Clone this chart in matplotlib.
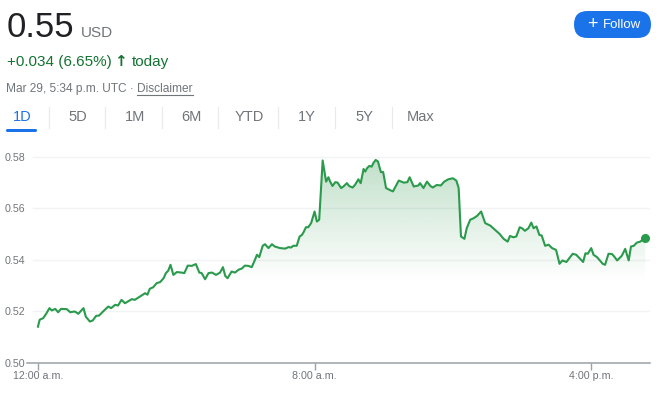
import matplotlib.pyplot as plt
import numpy as np
from matplotlib.patches import FancyBboxPatch
from matplotlib.lines import Line2D
from matplotlib.transforms import IdentityTransform

plt.rcParams['font.family'] = ['Liberation Sans', 'DejaVu Sans']

# minutes after midnight (UTC) and price in USD
minutes = [0, 3, 9, 14, 20, 24, 30, 35, 40, 50, 56, 64, 70, 79, 83, 90, 95, 101, 106, 113,
           122, 127, 134, 139, 145, 151, 163, 168, 177, 186, 190, 194, 200, 206, 212, 218,
           222, 226, 230, 235, 241, 249, 254, 260, 267, 274, 280, 284, 290, 296, 302, 309,
           316, 321, 325, 329, 336, 342, 348, 354, 359, 365, 371, 377, 380, 384, 390, 394,
           400, 406, 411, 420, 429, 435, 439, 443, 449, 454, 458, 461, 465, 469, 474, 480,
           484, 488, 494, 500, 504, 507, 511, 516, 520, 526, 530, 536, 540, 546, 550, 556,
           560, 565, 568, 571, 575, 579, 582, 586, 590, 595, 599, 604, 610, 616, 626, 635,
           641, 645, 652, 660, 663, 669, 675, 681, 685, 692, 699, 705, 712, 720, 726, 730,
           734, 740, 744, 750, 756, 762, 769, 776, 785, 793, 801, 808, 815, 819, 825, 830,
           836, 840, 845, 851, 856, 860, 865, 870, 874, 880, 886, 892, 899, 905, 910, 917,
           922, 928, 934, 946, 950, 954, 960, 964, 970, 980, 984, 990, 996, 1000, 1005, 1013,
           1019, 1025, 1029, 1034, 1039, 1045, 1054]
price = [0.5141, 0.5168, 0.5174, 0.5190, 0.5213, 0.5204, 0.5210, 0.5197, 0.5210, 0.5209,
         0.5197, 0.5200, 0.5191, 0.5213, 0.5180, 0.5161, 0.5165, 0.5183, 0.5184, 0.5200,
         0.5219, 0.5213, 0.5226, 0.5223, 0.5245, 0.5232, 0.5248, 0.5245, 0.5258, 0.5271,
         0.5265, 0.5288, 0.5294, 0.5310, 0.5314, 0.5329, 0.5349, 0.5358, 0.5381, 0.5342,
         0.5353, 0.5351, 0.5349, 0.5378, 0.5377, 0.5384, 0.5351, 0.5349, 0.5325, 0.5349,
         0.5351, 0.5342, 0.5351, 0.5372, 0.5338, 0.5329, 0.5355, 0.5351, 0.5362, 0.5367,
         0.5378, 0.5377, 0.5372, 0.5403, 0.5420, 0.5411, 0.5455, 0.5461, 0.5446, 0.5461,
         0.5452, 0.5446, 0.5444, 0.5450, 0.5448, 0.5455, 0.5455, 0.5491, 0.5497, 0.5508,
         0.5527, 0.5527, 0.5543, 0.5588, 0.5549, 0.5556, 0.5786, 0.5704, 0.5721, 0.5704,
         0.5687, 0.5702, 0.5700, 0.5679, 0.5685, 0.5698, 0.5687, 0.5681, 0.5691, 0.5713,
         0.5698, 0.5753, 0.5743, 0.5756, 0.5765, 0.5762, 0.5776, 0.5788, 0.5782, 0.5741,
         0.5741, 0.5679, 0.5672, 0.5666, 0.5708, 0.5700, 0.5702, 0.5721, 0.5685, 0.5689,
         0.5698, 0.5679, 0.5704, 0.5687, 0.5681, 0.5691, 0.5689, 0.5704, 0.5713, 0.5717,
         0.5708, 0.5679, 0.5491, 0.5482, 0.5523, 0.5556, 0.5562, 0.5571, 0.5588, 0.5543,
         0.5533, 0.5517, 0.5501, 0.5482, 0.5471, 0.5493, 0.5488, 0.5491, 0.5527, 0.5523,
         0.5513, 0.5523, 0.5545, 0.5523, 0.5530, 0.5497, 0.5495, 0.5455, 0.5459, 0.5446,
         0.5439, 0.5385, 0.5398, 0.5392, 0.5407, 0.5424, 0.5420, 0.5392, 0.5426, 0.5424,
         0.5446, 0.5420, 0.5411, 0.5385, 0.5381, 0.5424, 0.5423, 0.5413, 0.5398, 0.5416,
         0.5443, 0.5398, 0.5452, 0.5455, 0.5467, 0.5471, 0.5487]

y_ticks = [0.50, 0.52, 0.54, 0.56, 0.58]
x_ticks = [0, 480, 960]
x_labels = ["12:00 a.m.", "8:00 a.m.", "4:00 p.m."]
tabs = ["1D", "5D", "1M", "6M", "YTD", "1Y", "5Y", "Max"]

GREEN = '#2a9a4c'
W, H = 660, 393


def fx(x):
    return x / W


def fy(y):
    return 1 - y / H


fig = plt.figure(figsize=(6.6, 3.93), dpi=100)
ax = fig.add_axes([fx(27), fy(363), fx(650) - fx(27), fy(144) - fy(363)])
xmin, xmax = -19, 1062
ax.set_xlim(xmin, xmax)
ax.set_ylim(0.50, 0.585)

# faint grid
for v in y_ticks[1:]:
    ax.axhline(v, xmin=0.01, xmax=1, color='#f1f3f4', lw=1, zorder=0)

# gradient fill under the line
poly = ax.fill_between(minutes, price, 0.50, facecolor='none', edgecolor='none')
ys = np.linspace(0.50, 0.585, 300)
alpha = np.clip((ys - 0.532) / (0.58 - 0.532), 0, 1) * 0.28
grad = np.zeros((len(ys), 1, 4))
grad[..., 0] = 30 / 255
grad[..., 1] = 142 / 255
grad[..., 2] = 62 / 255
grad[:, 0, 3] = alpha
img = ax.imshow(grad, extent=[xmin, xmax, 0.50, 0.585], aspect='auto',
                origin='lower', zorder=1, interpolation='bilinear')
img.set_clip_path(poly.get_paths()[0], transform=ax.transData)

ax.plot(minutes, price, color=GREEN, lw=1.5, zorder=3, solid_joinstyle='round')
ax.plot(minutes[-1], price[-1], 'o', color=GREEN, ms=5.5, zorder=4)

for s in ['top', 'right', 'left']:
    ax.spines[s].set_visible(False)
ax.spines['bottom'].set_color('#9aa0a6')
ax.spines['bottom'].set_linewidth(1.1)
ax.set_yticks(y_ticks)
ax.set_yticklabels([f"{v:.2f}" for v in y_ticks])
ax.set_xticks(x_ticks)
ax.set_xticklabels(x_labels)
ax.tick_params(axis='y', length=0, pad=1, labelsize=7.7, labelcolor='#70757a')
ax.tick_params(axis='x', length=5, width=1, color='#9aa0a6', pad=1,
               labelsize=7.7, labelcolor='#70757a')

# header
fig.text(fx(7), fy(37), "0.55", fontsize=25, color='#202124', va='baseline')
fig.text(fx(81), fy(37), "USD", fontsize=11, color='#70757a', va='baseline')
fig.text(fx(7), fy(66), "+0.034 (6.65%)", fontsize=11, color='#137333', va='baseline')
fig.text(fx(114), fy(66), "\u2191", fontsize=11, color='#137333', va='baseline',
         fontweight='bold', family='DejaVu Sans')
fig.text(fx(132), fy(66), "today", fontsize=11, color='#137333', va='baseline')
fig.text(fx(6), fy(92), "Mar 29, 5:34 p.m. UTC \u00b7", fontsize=8.6, color='#70757a',
         va='baseline')
disc = fig.text(fx(137), fy(92), "Disclaimer", fontsize=8.6, color='#70757a', va='baseline')

# tabs
tab_x = [22, 78, 135, 191, 249, 307, 364, 421]
for t, x in zip(tabs, tab_x):
    fig.text(fx(x), fy(117), t, fontsize=10.5, ha='center', va='center',
             color='#1a73e8' if t == "1D" else '#70757a')
for x in [49, 105, 162, 218, 278, 335, 392]:
    fig.add_artist(Line2D([fx(x), fx(x)], [fy(107), fy(128)], color='#e8eaed', lw=0.9))

pix = IdentityTransform()
fig.add_artist(FancyBboxPatch((6, H - 132), 31, 3, boxstyle="round,pad=0,rounding_size=1.5",
                              transform=pix, facecolor='#1a73e8', edgecolor='none'))

# follow button
fig.add_artist(FancyBboxPatch((574, H - 38), 77, 27, boxstyle="round,pad=0,rounding_size=13.5",
                              transform=pix, facecolor='#1a73e8', edgecolor='none'))
fig.text(fx(592), fy(24.5), "+", fontsize=13, color='white', ha='center', va='center')
fig.text(fx(603), fy(24.5), "Follow", fontsize=9.5, color='white', va='center')

# underline for Disclaimer
fig.canvas.draw()
bb = disc.get_window_extent()
fig.add_artist(Line2D([bb.x0, bb.x1], [H - 95, H - 95], transform=pix, color='#70757a', lw=0.8))

fig.savefig("out.png", dpi=100)
